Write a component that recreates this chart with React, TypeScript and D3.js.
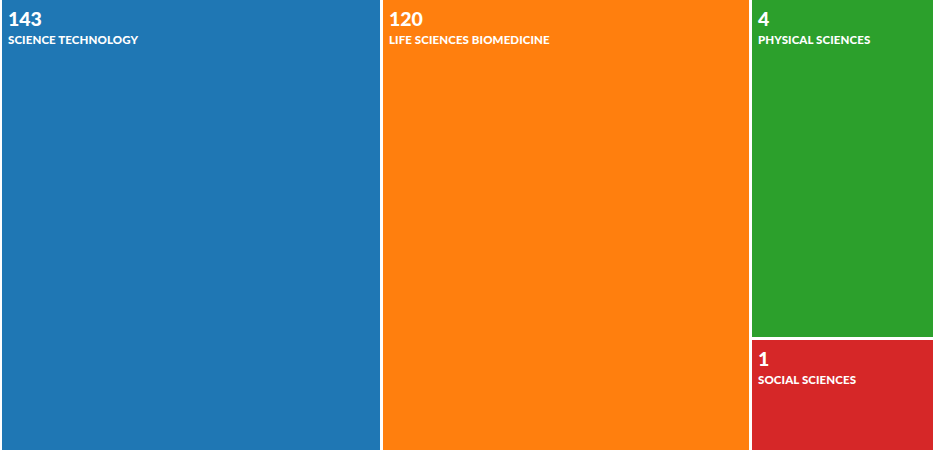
import { useMemo } from "react";
import * as d3 from "d3";

// ── Data ──────────────────────────────────────────

const categories = [
  "SCIENCE TECHNOLOGY",
  "LIFE SCIENCES BIOMEDICINE",
  "PHYSICAL SCIENCES",
  "SOCIAL SCIENCES",
];
const counts = [143, 120, 4, 1];
const colors = ["#1f77b4", "#ff7f0e", "#2ca02c", "#d62728"];

const W = 933;
const H = 450;

interface Leaf {
  name: string;
  count: number;
  color: string;
}

export default function App() {
  const leaves = useMemo(() => {
    const items: Leaf[] = categories.map((name, i) => ({
      name,
      count: counts[i],
      color: colors[i],
    }));
    // area follows a log scale so the tiny categories stay readable
    const root = d3
      .hierarchy<{ children?: Leaf[] } | Leaf>({ children: items })
      .sum((d: any) => (d.count ? Math.log2(d.count) + 1 : 0))
      .sort((a, b) => (b.value || 0) - (a.value || 0));
    d3
      .treemap<any>()
      .tile(d3.treemapSquarify)
      .size([W + 1, H])
      .paddingInner(3)
      .round(true)(root);
    return root.leaves() as d3.HierarchyRectangularNode<any>[];
  }, []);

  return (
    <div style={{ position: "absolute", left: 0, top: 0, width: W, height: H }}>
      <svg width={W} height={H} style={{ display: "block" }}>
        <rect width={W} height={H} fill="#fff" />
        <g transform="translate(2,0)">
          {leaves.map((d) => (
            <g key={d.data.name} transform={`translate(${d.x0},${d.y0})`}>
              <rect
                width={d.x1 - d.x0 + (d.x1 >= W - 2 ? 4 : 0)}
                height={d.y1 - d.y0}
                fill={d.data.color}
              />
              <text
                x={6}
                y={25.5}
                fill="#fff"
                fontFamily="Lato, 'Open Sans', sans-serif"
                fontWeight={900}
                fontSize={19.5}
              >
                {d.data.count}
              </text>
              <text
                x={6}
                y={44}
                fill="#fff"
                fontFamily="Lato, 'Open Sans', sans-serif"
                fontWeight={900}
                fontSize={11.5}
                letterSpacing={0.1}
              >
                {d.data.name}
              </text>
            </g>
          ))}
        </g>
      </svg>
    </div>
  );
}
